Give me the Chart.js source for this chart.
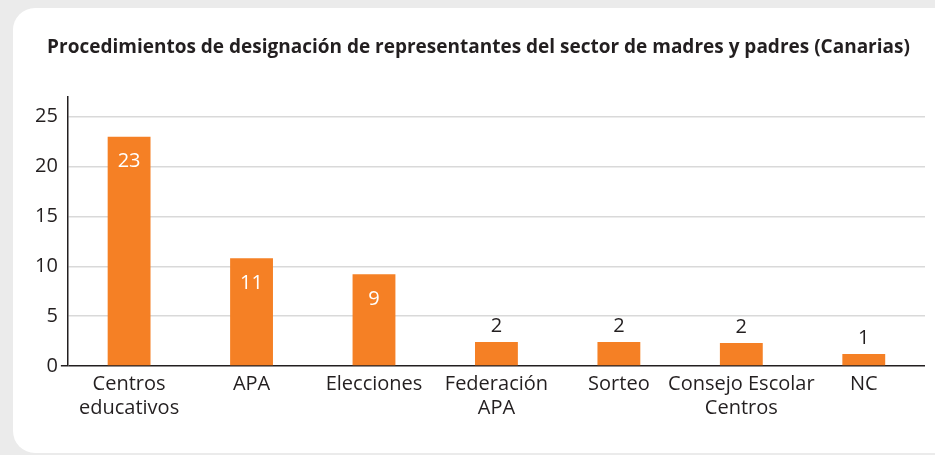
<!DOCTYPE html>
<html>
<head>
<meta charset="utf-8">
<script src="https://cdn.jsdelivr.net/npm/chart.js@4/dist/chart.umd.min.js"></script>
<style>
	html, body { margin: 0; padding: 0; background: #ebebeb; width: 935px; height: 455px; overflow: hidden; }
	.card { position: absolute; left: 13px; top: 8px; width: 960px; height: 445px; background: #fff; border-radius: 22px; }
	#chart1 { position: absolute; left: 0; top: 0; }
</style>
</head>
<body>
<div class="card"></div>
<canvas id="chart1" width="935" height="455"></canvas>
<script>
// categories (multi-line labels as arrays)
var categories = [
	["Centros", "educativos"],
	"APA",
	"Elecciones",
	["Federación", "APA"],
	"Sorteo",
	["Consejo Escolar", "Centros"],
	"NC"
];
// bar heights as drawn in the picture
var values = [23, 10.8, 9.2, 2.4, 2.4, 2.3, 1.2];
// numbers printed on the bars
var valueLabels = ["23", "11", "9", "2", "2", "2", "1"];
var yTicks = [0, 5, 10, 15, 20, 25];

var textColor = "#231f20";
var orange = "#f58025";

//draw the numbers on / above the bars
var barLabels = {
	id: 'barLabels',
	afterDatasetsDraw: function(chart) {
		var ctx = chart.ctx;
		var meta = chart.getDatasetMeta(0);
		ctx.save();
		ctx.font = "20px 'Open Sans'";
		ctx.textAlign = "center";
		ctx.textBaseline = "middle";
		meta.data.forEach(function(bar, i) {
			if (values[i] >= 5) {
				ctx.fillStyle = "#ffffff";
				ctx.fillText(valueLabels[i], bar.x, bar.y + 25);
			} else {
				ctx.fillStyle = textColor;
				ctx.fillText(valueLabels[i], bar.x, bar.y - 16);
			}
		});
		ctx.restore();
	}
};

function firstChart() {
	var canvas = document.getElementById('chart1').getContext('2d');
	new Chart(canvas, {
		type: 'bar',
		data: {
			labels: categories,
			datasets: [{
				data: values,
				backgroundColor: orange,
				barPercentage: 0.35,
				categoryPercentage: 1
			}]
		},
		options: {
			responsive: false,
			animation: false,
			layout: { padding: { left: 32, right: 10, top: 0, bottom: 29 } },
			plugins: {
				legend: { display: false },
				tooltip: { enabled: false },
				title: {
					display: true,
					text: "Procedimientos de designación de representantes del sector de madres y padres (Canarias)",
					color: textColor,
					font: { family: "'Open Sans'", size: 19, weight: 'bold' },
					padding: { top: 36, bottom: 38 }
				}
			},
			scales: {
				x: {
					grid: { display: false, drawTicks: false },
					border: { display: false },
					ticks: {
						color: textColor,
						font: { family: "'Open Sans'", size: 20, lineHeight: 1.2 },
						padding: 6,
						maxRotation: 0,
						autoSkip: false
					}
				},
				y: {
					min: 0,
					max: 27,
					afterBuildTicks: function(axis) {
						axis.ticks = yTicks.concat([27]).map(function(v) { return { value: v }; });
					},
					ticks: {
						color: textColor,
						font: { family: "'Open Sans'", size: 20 },
						padding: 3,
						callback: function(v) { return yTicks.indexOf(v) >= 0 ? v : ''; }
					},
					grid: {
						color: function(c) {
							if (c.tick.value === 0) return textColor;
							return yTicks.indexOf(c.tick.value) >= 0 ? "#d9d9d9" : "rgba(0,0,0,0)";
						},
						lineWidth: 1.5,
						tickLength: 7,
						tickColor: function(c) { return c.tick.value === 0 ? textColor : "rgba(0,0,0,0)"; },
						tickWidth: 1.5
					},
					border: { display: true, color: textColor, width: 1.5 }
				}
			}
		},
		plugins: [barLabels]
	});
}

firstChart();
</script>
</body>
</html>
